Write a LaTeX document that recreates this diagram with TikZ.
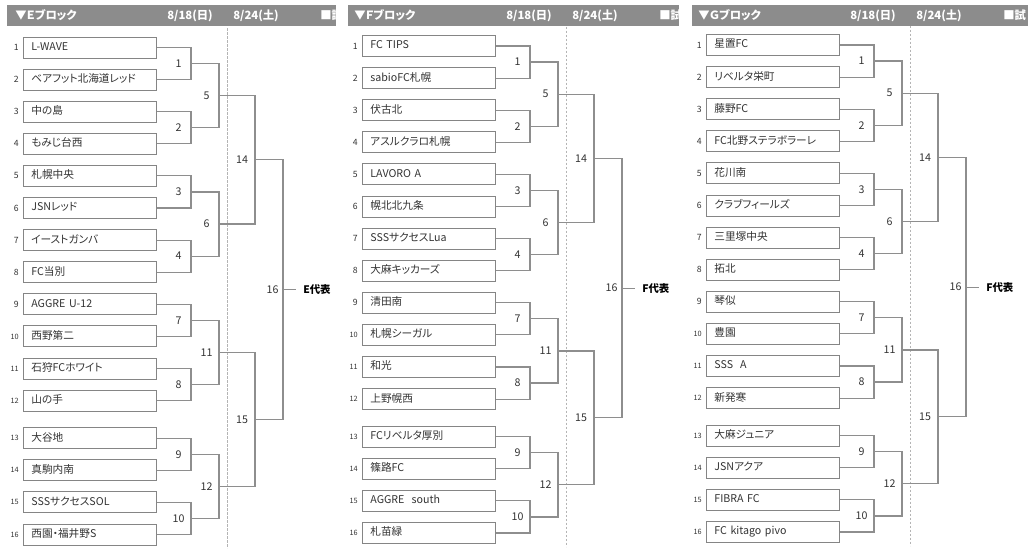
\documentclass[tikz,border=0pt]{standalone}
\usepackage{fontspec}
\setmainfont{Noto Sans CJK JP}[RawFeature=+palt]
\usetikzlibrary{calc}

\definecolor{bargray}{HTML}{8C8C8C}
\definecolor{wiregray}{HTML}{8E8E8E}
\definecolor{boxgray}{HTML}{858585}
\definecolor{dashgray}{HTML}{B4B4B4}
\definecolor{inkgray}{HTML}{333333}

\tikzset{
  team/.style={draw=boxgray, line width=0.75pt, fill=white, anchor=west,
    text width=88pt, inner xsep=5.9pt, inner ysep=0pt, align=left,
    minimum height=15.75pt, text height=5.8pt, text depth=1.4pt,
    font=\fontsize{8}{9}\selectfont, text=inkgray},
  seed/.style={anchor=east, inner sep=0pt, text=inkgray},
  wire/.style={draw=wiregray, line width=0.85pt},
  matchno/.style={inner sep=0pt, font=\fontsize{8}{9}\selectfont, text=inkgray},
  guide/.style={draw=dashgray, line width=0.6pt, dash pattern=on 2pt off 1pt},
  bartext/.style={text=white, font=\bfseries\fontsize{8.5}{9}\selectfont, inner sep=0pt},
  rep/.style={anchor=west, inner sep=0pt, font=\bfseries\fontsize{7.8}{8}\selectfont, text=black},
  declare function={rowy(\i)=47.5+(\i-1)*32.1+(\i>12)*5.5;}
}

% #1 dx, #2 dy, #3 prefix, #4/#5 bar ends, #6 letter, #7 winner, #8 teams
\def\drawblock#1#2#3#4#5#6#7#8{%
  \begin{scope}
    \clip (#4,5) rectangle (#5,25.5);
    \fill[bargray] (#4,5) rectangle (#5,25.5);
    \node[bartext, anchor=west] (#3title) at (#1+15,15.5) {▼#6ブロック};
    \node[bartext] (#3day1) at (#1+190,15.5) {8/18(日)};
    \node[bartext] (#3day2) at (#1+256,15.5) {8/24(土)};
    \node[bartext, anchor=west] (#3note) at (#1+320,15.5) {■試};
  \end{scope}
  \draw[guide] (#1+227,28+#2) -- (#1+227,548+#2);
  \foreach \tm [count=\i] in {#8} {
    \node[team] (#3t\i) at (#1+23,{rowy(\i)+(#2)}) {\tm};
    \node[seed] (#3s\i) at (#1+19,{rowy(\i)+(#2)})
      {\ifnum\i>9 \fontsize{5.5}{6}\selectfont\else\fontsize{6.5}{7}\selectfont\fi\i};
  }
  \foreach \k/\num in {1/1,2/2,3/3,4/4,5/7,6/8,7/9,8/10} {
    \pgfmathtruncatemacro\ta{2*\k-1}
    \pgfmathtruncatemacro\tb{2*\k}
    \coordinate (#3a\k) at (#1+191,{(rowy(\ta)+rowy(\tb))/2+(#2)});
    \draw[wire] (#3t\ta.east) -| (#3a\k) |- (#3t\tb.east);
    \node[matchno] (#3n\num) at ($(#3a\k)+(-12.5,0)$) {\num};
  }
  \foreach \k/\num in {1/5,2/6,3/11,4/12} {
    \pgfmathtruncatemacro\ta{2*\k-1}
    \pgfmathtruncatemacro\tb{2*\k}
    \coordinate (#3b\k) at ($(#3a\ta)!0.5!(#3a\tb)+(28,0)$);
    \draw[wire] (#3a\ta) -| (#3b\k) |- (#3a\tb);
    \node[matchno] (#3n\num) at ($(#3b\k)+(-12.5,0)$) {\num};
  }
  \foreach \k/\num in {1/14,2/15} {
    \pgfmathtruncatemacro\ta{2*\k-1}
    \pgfmathtruncatemacro\tb{2*\k}
    \coordinate (#3c\k) at ($(#3b\ta)!0.5!(#3b\tb)+(36,0)$);
    \draw[wire] (#3b\ta) -| (#3c\k) |- (#3b\tb);
    \node[matchno] (#3n\num) at ($(#3c\k)+(-13,0)$) {\num};
  }
  \coordinate (#3d) at ($(#3c1)!0.5!(#3c2)+(28,0)$);
  \draw[wire] (#3c1) -| (#3d) |- (#3c2);
  \node[matchno] (#3n16) at ($(#3d)+(-10.5,0)$) {16};
  \node[rep] (#3rep) at ($(#3d)+(20,0)$) {#7};
  \draw[wire, shorten >=5.25pt] (#3d) -- (#3rep.west);
}

\begin{document}
\begin{tikzpicture}[x=0.75pt, y=-0.75pt]
  \useasboundingbox (0,0) rectangle (1028,558);

  %%%%% E %%%%%
  \drawblock{0}{0}{E}{7}{336}{Ｅ}{E代表}{L-WAVE,ベアフット北海道レッド,中の島,もみじ台西,札幌中央,JSNレッド,イーストガンバ,FC当別,AGGRE U-12,西野第二,石狩FCホワイト,山の手,大谷地,真駒内南,SSSサクセスSOL,西園・福井野S}

  %%%%% F %%%%%
  \drawblock{339}{-1.5}{F}{348}{679}{Ｆ}{F代表}{FC TIPS,sabioFC札幌,伏古北,アスルクラロ札幌,LAVORO A,幌北北九条,SSSサクセスLua,大麻キッカーズ,清田南,札幌シーガル,和光,上野幌西,FCリベルタ厚別,篠路FC,AGGRE\ \ south,札苗緑}

  %%%%% G %%%%%
  \drawblock{683}{-2.5}{G}{692}{1028}{Ｇ}{F代表}{星置FC,リベルタ栄町,藤野FC,FC北野ステラボラーレ,花川南,クラブフィールズ,三里塚中央,拓北,琴似,豊園,SSS\ \ A,新発寒,大麻ジュニア,JSNアクア,FIBRA FC,FC kitago pivo}
\end{tikzpicture}
\end{document}
